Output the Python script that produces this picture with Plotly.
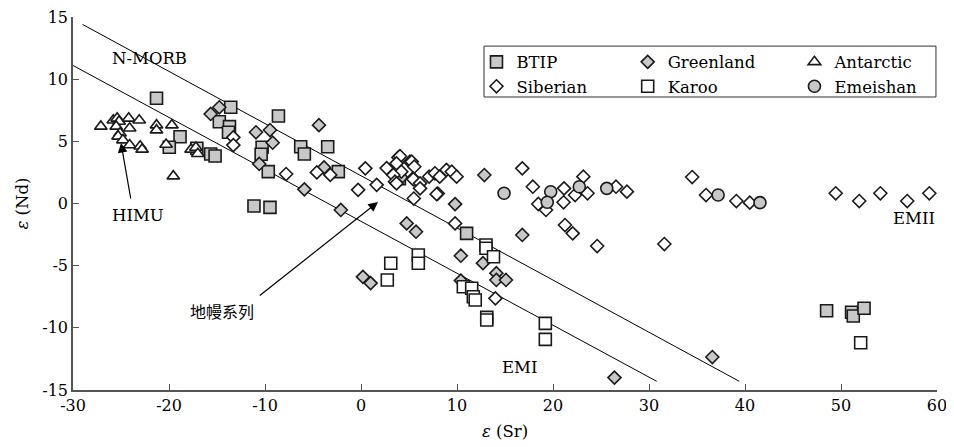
import plotly.graph_objects as go

# ---------------- data ----------------
btip_x = [-21.3, -18.85, -19.97, -17.1, -15.66, -15.2, -13.57, -14.76, -13.7, -13.8, -8.6, -10.3, -10.4, -9.66,
          -11.15, -9.48, -6.28, -5.9, -3.47, -2.36, 4.0, 11.0, 48.5, 51.1, 51.28, 52.4]
btip_y = [8.46, 5.37, 4.52, 4.44, 3.98, 3.82, 7.74, 6.58, 6.18, 5.73, 7.04, 4.52, 3.96, 2.56,
          -0.2, -0.31, 4.57, 3.98, 4.57, 2.56, 2.0, -2.4, -8.62, -8.75, -9.05, -8.43]

green_x = [-15.66, -14.76, -10.94, -9.48, -9.2, -10.6, -4.38, -3.85, -5.9, -2.1, 5.1, 4.2, 8.0, 9.8, 12.85,
           4.76, 5.73, 16.8, 10.4, 12.7, 14.1, 14.1, 15.1, 10.4, 0.2, 1.0, 26.4, 36.6]
green_y = [7.2, 7.74, 5.73, 5.91, 4.89, 3.18, 6.3, 2.9, 1.14, -0.52, 3.36, 2.1, 0.8, -0.05, 2.29,
           -1.6, -2.27, -2.53, -4.2, -4.8, -5.6, -6.15, -6.15, -6.2, -5.9, -6.4, -14.0, -12.35]

ant_x = [-27.1, -25.8, -25.4, -25.2, -24.2, -23.1, -25.5, -24.1, -25.1, -25.3, -24.8, -24.1, -23.0, -22.8,
         -21.3, -21.3, -19.7, -20.3, -17.7, -17.2, -17.0, -19.55]
ant_y = [6.2, 6.7, 6.85, 6.6, 6.85, 6.7, 6.2, 6.05, 5.65, 5.4, 5.1, 4.7, 4.6, 4.35,
         6.3, 5.9, 6.3, 4.75, 4.35, 4.5, 4.0, 2.2]

sib_x = [-13.3, -13.3, -7.8, -4.6, -3.2, 0.45, -0.3, 1.63, 2.67, 3.9, 4.06, 3.7, 5.28, 5.55, 4.2, 3.37, 3.54, 3.7,
         5.42, 5.45, 6.15, 6.15, 5.5, 7.1, 7.7, 8.2, 8.9, 9.45, 9.96, 7.88, 9.8, 16.8, 17.9, 18.47, 19.27,
         21.15, 21.1, 22.3, 23.16, 23.6, 21.25, 22.05, 24.6, 26.56, 27.7, 31.6, 34.5, 35.94, 39.1, 40.5,
         49.45, 51.9, 54.1, 56.9, 59.2, 14.0]
sib_y = [5.32, 4.7, 2.37, 2.5, 2.3, 2.83, 1.1, 1.5, 2.85, 3.7, 3.8, 3.23, 3.37, 2.96, 2.56, 2.29, 1.75, 1.62,
         2.03, 1.95, 1.62, 1.22, 0.4, 2.16, 2.43, 2.16, 2.7, 2.56, 2.16, 0.75, -1.6, 2.83, 1.35, -0.04, -0.52,
         1.22, 0.1, 0.68, 2.16, 0.82, -1.73, -2.4, -3.42, 1.35, 0.95, -3.26, 2.13, 0.68, 0.2, 0.07,
         0.82, 0.2, 0.82, 0.2, 0.82, -7.63]

karoo_x = [3.1, 2.74, 5.97, 5.97, 13.02, 13.02, 13.8, 10.66, 11.53, 11.7, 11.9, 13.1, 13.1, 19.2, 19.2, 52.05]
karoo_y = [-4.81, -6.15, -4.14, -4.81, -3.34, -3.6, -4.28, -6.69, -6.82, -7.5, -7.76, -9.16, -9.37, -9.64, -10.93, -11.2]

emei_x = [14.9, 19.76, 19.4, 22.74, 25.6, 37.2, 41.56]
emei_y = [0.82, 0.95, 0.1, 1.35, 1.22, 0.68, 0.07]

upper_line_x = [-29.0, 39.4]
upper_line_y = [14.4, -14.3]
lower_line_x = [-30.0, 30.8]
lower_line_y = [11.1, -14.3]

x_ticks = [-30, -20, -10, 0, 10, 20, 30, 40, 50, 60]
x_ticktext = ["-30", "-20", "-10", "0", "10", "20", "30", "40", "50", "60"]
y_ticks = [-15, -10, -5, 0, 5, 10, 15]
y_ticktext = ["-15", "-10", "-5", "0", "5", "10", "15"]

# ---------------- figure ----------------
GRAY = "#c8c8c8"
EDGE = "#1a1a1a"
FONT = "DejaVu Serif"

fig = go.Figure()

fig.add_trace(go.Scatter(x=upper_line_x, y=upper_line_y, mode="lines",
                         line=dict(color="black", width=1), showlegend=False, hoverinfo="skip"))
fig.add_trace(go.Scatter(x=lower_line_x, y=lower_line_y, mode="lines",
                         line=dict(color="black", width=1), showlegend=False, hoverinfo="skip"))

def pts(name, xs, ys, symbol, fill, size, legend):
    return go.Scatter(x=xs, y=ys, mode="markers", name=name, legend=legend,
                      marker=dict(symbol=symbol, size=size, color=fill,
                                  line=dict(color=EDGE, width=1.6)))

fig.add_trace(pts("BTIP", btip_x, btip_y, "square", GRAY, 12, "legend"))
fig.add_trace(pts("Greenland", green_x, green_y, "diamond", GRAY, 10, "legend2"))
fig.add_trace(pts("Antarctic", ant_x, ant_y, "triangle-up", "white", 11, "legend3"))
fig.add_trace(pts("Siberian", sib_x, sib_y, "diamond", "white", 10, "legend"))
fig.add_trace(pts("Karoo", karoo_x, karoo_y, "square", "white", 12, "legend2"))
fig.add_trace(pts("Emeishan", emei_x, emei_y, "circle", GRAY, 12, "legend3"))

leg_common = dict(orientation="v", yanchor="top", y=0.926, xanchor="left",
                  bgcolor="rgba(0,0,0,0)", borderwidth=0, tracegroupgap=0,
                  font=dict(family=FONT, size=16.5, color="black"))
fig.update_layout(
    legend=dict(x=0.467, **leg_common),
    legend2=dict(x=0.642, **leg_common),
    legend3=dict(x=0.835, **leg_common),
)

# legend frame
fig.add_shape(type="rect", xref="paper", yref="paper", x0=0.4757, x1=0.9988, y0=0.7855, y1=0.922,
              line=dict(color="#333", width=1), fillcolor="rgba(0,0,0,0)")

ann_font = dict(family=FONT, size=16.5, color="black")
fig.add_annotation(x=-21.98, y=11.7, text="N-MORB", showarrow=False, font=ann_font)
fig.add_annotation(x=-23.2, y=-1.0, text="HIMU", showarrow=False, font=ann_font)
fig.add_annotation(x=-14.5, y=-8.65, text="地幔系列", showarrow=False,
                   font=dict(family="Noto Sans CJK SC", size=16, color="black"))
fig.add_annotation(x=16.56, y=-13.2, text="EMI", showarrow=False, font=ann_font)
fig.add_annotation(x=57.6, y=-1.17, text="EMII", showarrow=False, font=ann_font)

# arrows
fig.add_annotation(x=-25.0, y=4.87, ax=-23.96, ay=0.28, xref="x", yref="y", axref="x", ayref="y",
                   text="", showarrow=True, arrowhead=2, arrowsize=1.6, arrowwidth=1.2, arrowcolor="black")
fig.add_annotation(x=1.77, y=0.12, ax=-10.7, ay=-7.5, xref="x", yref="y", axref="x", ayref="y",
                   text="", showarrow=True, arrowhead=2, arrowsize=1.6, arrowwidth=1.2, arrowcolor="black")

axis_common = dict(showgrid=False, zeroline=False, showline=True, linecolor="#555", linewidth=1.5,
                   ticks="inside", ticklen=6, tickcolor="#555", tickwidth=1.2, automargin=False,
                   ticklabeloverflow="allow",
                   tickfont=dict(family=FONT, size=16, color="black"), mirror=False)

fig.update_xaxes(range=[-30, 60], tickvals=x_ticks, ticktext=x_ticktext,
                 title=dict(text="<i>ε</i> (Sr)", font=dict(family=FONT, size=16.5, color="black"), standoff=11),
                 **axis_common)
fig.update_yaxes(range=[-15, 15], tickvals=y_ticks, ticktext=y_ticktext,
                 title=dict(text="<i>ε</i> (Nd)", font=dict(family=FONT, size=16.5, color="black"), standoff=10),
                 **axis_common)

# page body has an 8 px default margin: size and margins compensate for it
fig.update_layout(width=946, height=439, margin=dict(l=65, r=17, t=9, b=57),
                  plot_bgcolor="white", paper_bgcolor="white", showlegend=True)

fig.write_html("out.html")
